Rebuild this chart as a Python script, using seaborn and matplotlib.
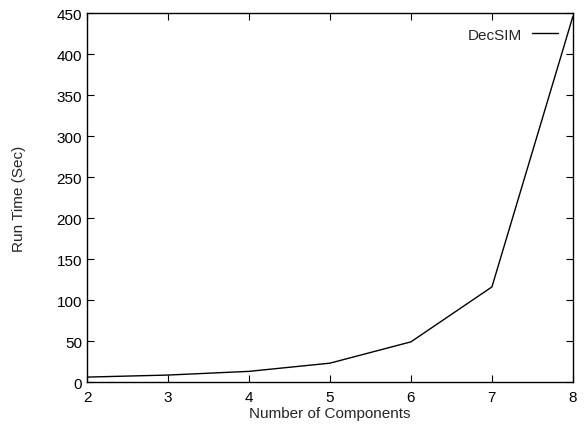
import matplotlib
matplotlib.use("Agg")
import matplotlib.pyplot as plt
import seaborn as sns
import pandas as pd

# data
components = [2, 3, 4, 5, 6, 7, 8]
run_time = [6, 8.5, 13, 23, 49, 116, 446]
x_ticks = [2, 3, 4, 5, 6, 7, 8]
y_ticks = [0, 50, 100, 150, 200, 250, 300, 350, 400, 450]

sns.set_style("ticks")
plt.rcParams['font.family'] = ['Liberation Sans', 'DejaVu Sans']

df = pd.DataFrame({"Number of Components": components, "Run Time (Sec)": run_time})

fig = plt.figure(figsize=(5.84, 4.27), dpi=100)
ax = fig.add_axes([0.149, 0.103, 0.832, 0.864])
sns.lineplot(data=df, x="Number of Components", y="Run Time (Sec)", ax=ax,
             color="black", linewidth=1.0, label="DecSIM")

ax.set_xlim(2, 8)
ax.set_ylim(0, 450)
ax.set_xticks(x_ticks)
ax.set_yticks(y_ticks)
ax.tick_params(direction="in", top=True, right=True, length=5, width=0.8,
               labelsize=11, colors="black")
ax.tick_params(axis="x", pad=6)
for s in ax.spines.values():
    s.set_linewidth(1.0)
    s.set_color("black")

ax.set_xlabel("Number of Components", fontsize=11, labelpad=1)
ax.set_ylabel("Run Time (Sec)", fontsize=11, labelpad=22)

ax.legend(loc="upper right", frameon=False, markerfirst=False, fontsize=11,
          handlelength=1.65, handletextpad=0.7, borderaxespad=0.0,
          bbox_to_anchor=(0.981, 0.977))

fig.savefig("out.png", dpi=100)
